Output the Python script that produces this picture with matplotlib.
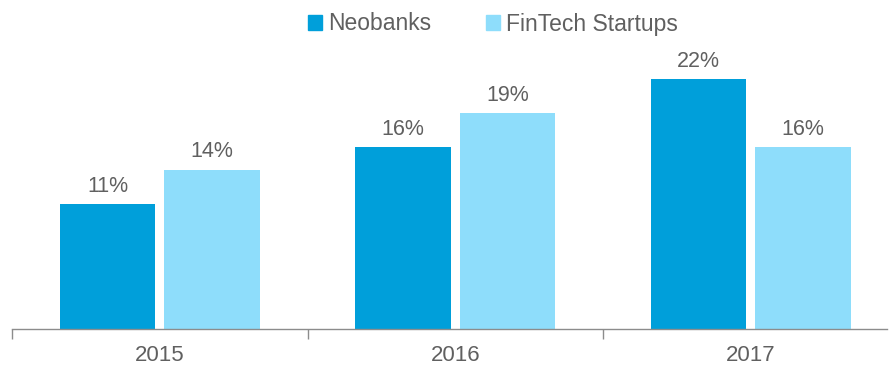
import matplotlib
matplotlib.use("Agg")
import matplotlib.pyplot as plt
import numpy as np
from matplotlib.patches import Patch

years = ["2015", "2016", "2017"]
neobanks = [11, 16, 22]
fintech = [14, 19, 16]
series_names = ["Neobanks", "FinTech Startups"]

plt.rcParams["font.family"] = ["Liberation Sans", "DejaVu Sans"]
text_color = "#606060"
c_neo = "#009FDA"
c_fin = "#8EDDFB"

W, H = 890, 366
fig = plt.figure(figsize=(W / 100, H / 100), dpi=100)
ax = fig.add_axes([12 / W, 37 / H, 875 / W, 329 / H])

x = np.arange(len(years))
w = 0.322
off = 0.177
b1 = ax.bar(x - off, neobanks, w, color=c_neo)
b2 = ax.bar(x + off, fintech, w, color=c_fin)

for bars, vals in ((b1, neobanks), (b2, fintech)):
    for b, v in zip(bars, vals):
        ax.text(b.get_x() + b.get_width() / 2, v + 1.1, f"{v}%",
                ha="center", va="baseline", fontsize=15.5, color=text_color)

ax.set_xlim(-0.5, -0.5 + 875 / 295.5)
ax.set_ylim(0, 28.96)
ax.set_yticks([])
for s in ("top", "right", "left"):
    ax.spines[s].set_visible(False)
ax.spines["bottom"].set_color("#8c8c8c")
ax.spines["bottom"].set_linewidth(1.0)

ax.set_xticks([-0.5, 0.5, 1.5], minor=False)
ax.set_xticklabels([])
ax.tick_params(axis="x", which="major", length=7, color="#8c8c8c", width=1)
ax.set_xticks(x, minor=True)
ax.set_xticklabels(years, minor=True)
ax.tick_params(axis="x", which="minor", length=0, pad=11.5, labelsize=16,
               labelcolor=text_color)

handles = [Patch(color=c_neo), Patch(color=c_fin)]
fig.legend(handles, series_names, loc="center", bbox_to_anchor=(493 / W, 1 - 24 / H),
           ncol=2, frameon=False, fontsize=16.5, handlelength=0.61, handleheight=0.61,
           handletextpad=0.27, columnspacing=2.36, labelcolor=text_color,
           borderpad=0, borderaxespad=0)

fig.savefig("out.png", dpi=100)
